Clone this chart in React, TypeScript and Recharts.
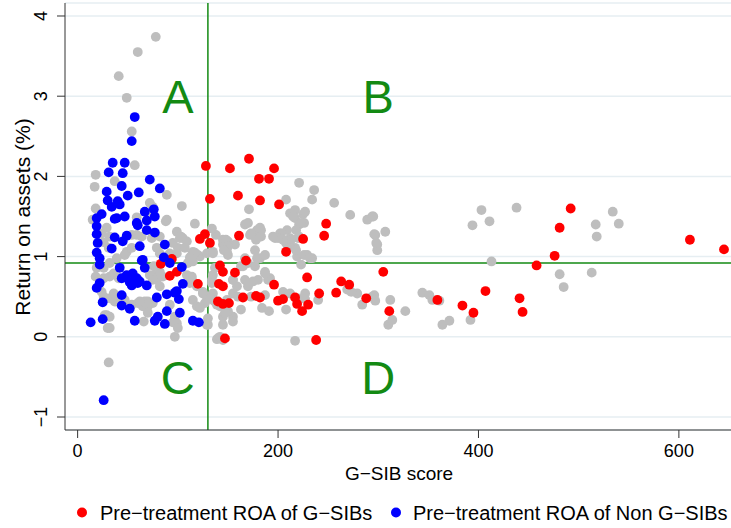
import React from 'react'
import {
  ScatterChart,
  Scatter,
  XAxis,
  YAxis,
  CartesianGrid,
  ReferenceLine,
  Legend,
} from 'recharts'

// G-SIB score (x) and return on assets in % (y)
const gsibPoints: [number, number][] = [
  [128, 2.13], [152, 2.1], [171, 2.22], [196, 2.1], [181, 1.97], [191, 1.97], [132, 1.72],
  [160, 1.76], [182, 1.7], [201, 1.65], [248, 1.41], [246, 1.26], [225, 1.22], [161, 1.26],
  [127, 1.28], [122, 1.22], [132, 1.17], [208, 1.06], [168, 0.95], [142, 0.89], [145, 0.81],
  [157, 0.8], [229, 0.74], [120, 0.66], [141, 0.66], [145, 0.63], [196, 0.65], [263, 0.69],
  [271, 0.65], [258, 0.55], [241, 0.54], [288, 0.48], [178, 0.51], [182, 0.49], [165, 0.49],
  [140, 0.44], [145, 0.41], [151, 0.42], [200, 0.45], [205, 0.47], [217, 0.49], [219, 0.41],
  [224, 0.32], [230, 0.4], [147, -0.02], [238, -0.04], [83, 0.91], [94, 0.97], [92, 0.76],
  [99, 0.81], [305, 0.81], [311, 0.32], [359, 0.46], [384, 0.39], [395, 0.3], [407, 0.57],
  [441, 0.48], [444, 0.31], [458, 0.89], [476, 1.01], [481, 1.36], [492, 1.6], [611, 1.21],
  [645, 1.09],
]

const nonGsibPoints: [number, number][] = [
  [57, 2.74], [54, 2.44], [35, 2.17], [47, 2.17], [31, 2.05], [45, 2.04], [72, 1.96],
  [82, 1.85], [44, 1.88], [29, 1.81], [61, 1.8], [50, 1.76], [30, 1.7], [40, 1.69],
  [34, 1.62], [42, 1.65], [67, 1.56], [76, 1.59], [77, 1.5], [24, 1.53], [19, 1.48],
  [39, 1.48], [47, 1.5], [37, 1.47], [59, 1.42], [69, 1.45], [60, 1.39], [19, 1.38],
  [19, 1.28], [69, 1.33], [77, 1.3], [37, 1.24], [49, 1.26], [45, 1.19], [34, 1.1],
  [20, 1.17], [19, 1.05], [62, 1.13], [87, 1.15], [22, 0.98], [22, 0.9], [64, 0.95],
  [67, 0.86], [86, 0.99], [92, 0.92], [104, 0.87], [42, 0.86], [49, 0.77], [55, 0.79],
  [59, 0.73], [44, 0.73], [52, 0.68], [60, 0.67], [69, 0.64], [54, 0.64], [22, 0.67],
  [19, 0.61], [105, 0.66], [44, 0.52], [25, 0.43], [89, 0.53], [79, 0.49], [99, 0.57],
  [101, 0.47], [102, 0.3], [44, 0.39], [52, 0.35], [80, 0.25], [89, 0.32], [87, 0.16],
  [77, 0.2], [57, 0.2], [25, 0.22], [13, 0.18], [115, 0.2], [121, 0.18], [26, -0.79],
  [97, 0.55], [65, 0.96], [62, 0.69],
]

const otherPoints: [number, number][] = [
  [78, 3.74], [60, 3.55], [41, 3.25], [49, 2.98], [54, 2.56], [57, 2.14], [18, 2.02],
  [17, 1.87], [37, 1.94], [89, 1.77], [104, 1.63], [117, 1.41], [18, 1.6], [15, 1.46],
  [72, 1.67], [74, 1.56], [75, 1.62], [89, 1.46], [88, 1.44], [59, 1.49], [54, 1.27],
  [59, 1.27], [99, 1.31], [103, 1.25], [105, 1.23], [29, 1.36], [24, 1.29], [32, 1.25],
  [26, 1.18], [31, 1.11], [49, 1.06], [54, 1.11], [47, 1.02], [39, 0.98], [32, 0.92],
  [79, 1.11], [82, 1.04], [100, 1.11], [99, 1.04], [92, 1.04], [115, 1.06], [120, 1.02],
  [114, 0.96], [110, 0.92], [26, 0.86], [32, 0.75], [36, 0.79], [41, 0.73], [76, 0.88],
  [77, 0.77], [85, 0.75], [79, 0.71], [82, 0.63], [114, 0.75], [112, 0.67], [119, 0.63],
  [24, 0.56], [26, 0.5], [36, 0.54], [39, 0.44], [47, 0.46], [54, 0.4], [60, 0.42],
  [70, 0.38], [75, 0.42], [67, 0.44], [92, 0.4], [97, 0.25], [99, 0.17], [27, 0.27],
  [32, 0.25], [30, 0.11], [115, 0.46], [119, 0.38], [97, 0.0], [129, 0.15], [130, 0.23],
  [135, 0.46], [139, 0.4], [135, 0.54], [140, -0.02], [145, -0.04], [122, 1.0], [129, 1.04],
  [135, 1.06], [149, 1.17], [157, 1.15], [155, 0.71], [159, 0.63], [155, 0.25], [149, 0.46],
  [31, -0.32], [64, 1.25], [74, 1.23], [82, 1.25], [95, 1.17], [102, 1.23], [109, 1.19],
  [107, 1.11], [114, 1.02], [115, 0.94], [72, 0.77], [75, 0.71], [82, 0.81], [109, 0.77],
  [114, 0.71], [119, 0.65], [125, 0.56], [129, 0.5], [127, 0.42], [122, 0.36], [62, 0.42],
  [65, 0.38], [70, 0.44], [95, 0.18], [100, 0.11], [135, 0.77], [134, 0.71], [137, 0.86],
  [142, 0.38], [150, 0.32], [145, 0.15], [149, 1.11], [150, 1.02], [138, 1.27], [145, 1.21],
  [19, 0.86], [18, 0.75], [26, 0.73], [32, 0.48], [37, 0.44], [29, 0.27], [32, 0.11],
  [69, 0.4], [62, 0.44], [66, 0.19], [70, 0.3], [134, 1.35],
  [221, 1.92], [236, 1.83], [234, 1.71], [256, 1.67], [272, 1.52], [208, 1.71], [171, 1.59],
  [212, 1.54], [217, 1.48], [225, 1.53], [221, 1.4], [226, 1.42], [167, 1.4], [179, 1.33],
  [183, 1.33], [172, 1.27], [177, 1.25], [197, 1.23], [202, 1.29], [209, 1.33], [212, 1.23],
  [220, 1.23], [208, 1.17], [145, 1.15], [150, 1.19], [149, 1.06], [177, 1.08], [217, 1.11],
  [219, 1.0], [229, 1.02], [234, 0.98], [135, 1.04], [182, 0.98], [117, 1.05], [112, 0.99],
  [289, 1.46], [294, 1.5], [297, 1.27], [299, 1.15], [299, 1.08], [217, 1.58], [215, 1.5],
  [227, 1.56], [223, 1.42], [218, 1.33], [221, 1.25], [213, 1.21], [210, 1.11], [218, 1.08],
  [226, 1.02], [232, 0.98], [203, 1.29], [205, 1.21], [200, 1.23], [195, 1.25], [182, 1.36],
  [183, 1.25], [178, 1.21], [173, 1.29], [148, 1.21], [150, 1.13], [146, 1.08], [167, 0.98],
  [177, 0.88], [170, 0.92], [163, 0.88], [187, 1.02], [179, 0.98], [223, 0.9], [170, 1.42],
  [187, 0.81], [192, 0.73], [170, 0.67], [175, 0.69], [155, 0.71], [134, 0.67], [125, 0.54],
  [132, 0.48], [137, 0.44], [155, 0.54], [160, 0.5], [205, 0.56], [212, 0.54], [184, 0.36],
  [191, 0.32], [163, 0.34], [208, 0.34], [145, 0.25], [155, 0.19], [130, 0.15], [139, -0.03],
  [142, 0.0], [217, -0.05], [220, 0.48], [227, 0.54], [240, 0.46], [269, 0.59], [279, 0.54],
  [284, 0.4], [294, 0.5], [147, 0.3], [187, 0.52], [170, 0.63], [173, 0.5], [227, 0.47],
  [273, 0.56], [167, 0.71], [180, 0.71], [190, 0.71], [187, 0.79], [165, 0.88],
  [295, 1.5], [296, 1.28], [307, 1.31], [298, 1.17], [403, 1.58], [394, 1.39], [411, 1.44],
  [438, 1.61], [413, 0.94], [517, 1.4], [518, 1.25], [534, 1.56], [540, 1.41], [481, 0.78],
  [485, 0.62], [513, 0.8], [296, 0.52], [297, 0.45], [312, 0.46], [327, 0.32], [344, 0.55],
  [351, 0.52], [354, 0.46], [361, 0.45], [364, 0.15], [371, 0.2], [392, 0.21], [310, 0.15],
  [314, 0.21],
]

const quadrantLabels = [
  { x: 100, y: 3, label: 'A' },
  { x: 300, y: 3, label: 'B' },
  { x: 100, y: -0.5, label: 'C' },
  { x: 300, y: -0.5, label: 'D' },
]

const xTicks = [0, 200, 400, 600]
const yTicks = [-1, 0, 1, 2, 3, 4]
const scoreCutoff = 130
const roaCutoff = 0.92

const seriesNames = ['Pre−treatment ROA of G−SIBs', 'Pre−treatment ROA of Non G−SIBs']

const FONT = '"Liberation Sans", Arial, Helvetica, sans-serif'
const GREEN = '#138a13'
const AXIS = '#333'

const toXY = (pts: [number, number][]) => pts.map(([x, y]) => ({ x, y }))

const dot = (fill: string) => (p: any) => <circle cx={p.cx} cy={p.cy} r={4.9} fill={fill} />

const fmt = (v: number) => (v < 0 ? '−' + Math.abs(v) : String(v))

function XTick(p: any) {
  return (
    <text x={p.x} y={457} textAnchor="middle" fontSize={18} fontFamily={FONT} fill="#000">
      {fmt(p.payload.value)}
    </text>
  )
}

function YTick(p: any) {
  return (
    <text
      x={47}
      y={p.y}
      transform={`rotate(-90 47 ${p.y})`}
      textAnchor="middle"
      fontSize={18}
      fontFamily={FONT}
      fill="#000"
    >
      {fmt(p.payload.value)}
    </text>
  )
}

function Letter(p: any) {
  return (
    <text x={p.cx} y={p.cy + 17} textAnchor="middle" fontSize={47} fontFamily={FONT} fill={GREEN}>
      {p.payload.label}
    </text>
  )
}

function LegendBox() {
  return (
    <svg width={731} height={28} style={{ display: 'block' }}>
      <circle cx={82} cy={13.5} r={5} fill="#ff0000" />
      <text x={100} y={21} fontSize={20} fontFamily={FONT} fill="#000">
        {seriesNames[0]}
      </text>
      <circle cx={396} cy={13.5} r={5} fill="#0000ff" />
      <text x={413} y={21} fontSize={20} fontFamily={FONT} fill="#000">
        {seriesNames[1]}
      </text>
    </svg>
  )
}

export default function App() {
  return (
    <div style={{ position: 'fixed', left: 0, top: 0, background: '#fff' }}>
      <ScatterChart width={731} height={528} margin={{ top: 3, right: 0, bottom: 0, left: 0 }}>
        <CartesianGrid vertical={false} stroke="#e6eef2" strokeWidth={1.5} />
        <XAxis
          type="number"
          dataKey="x"
          domain={[-12.6, 652]}
          ticks={xTicks}
          allowDataOverflow
          height={98}
          tickSize={8}
          stroke={AXIS}
          tick={<XTick />}
          label={{
            content: () => (
              <text x={399} y={480} textAnchor="middle" fontSize={19} fontFamily={FONT} fill="#000">
                G−SIB score
              </text>
            ),
          }}
        />
        <YAxis
          type="number"
          dataKey="y"
          domain={[-1.162, 4.162]}
          ticks={yTicks}
          allowDataOverflow
          width={65}
          tickSize={8}
          stroke={AXIS}
          tick={<YTick />}
          label={{
            content: () => (
              <text
                x={30}
                y={217}
                transform="rotate(-90 30 217)"
                textAnchor="middle"
                fontSize={21}
                fontFamily={FONT}
                fill="#000"
              >
                Return on assets (%)
              </text>
            ),
          }}
        />
        <ReferenceLine x={scoreCutoff} stroke={GREEN} strokeWidth={1.5} />
        <ReferenceLine y={roaCutoff} stroke={GREEN} strokeWidth={1.5} />
        <Scatter data={toXY(otherPoints)} shape={dot('#bebebe')} isAnimationActive={false} />
        <Scatter data={toXY(gsibPoints)} shape={dot('#ff0000')} isAnimationActive={false} />
        <Scatter data={toXY(nonGsibPoints)} shape={dot('#0000ff')} isAnimationActive={false} />
        <Scatter data={quadrantLabels} shape={Letter} isAnimationActive={false} />
        <Legend
          layout="horizontal"
          verticalAlign="middle"
          align="center"
          wrapperStyle={{ top: 499, left: 0, width: 731, height: 28 }}
          content={() => <LegendBox />}
        />
      </ScatterChart>
    </div>
  )
}
